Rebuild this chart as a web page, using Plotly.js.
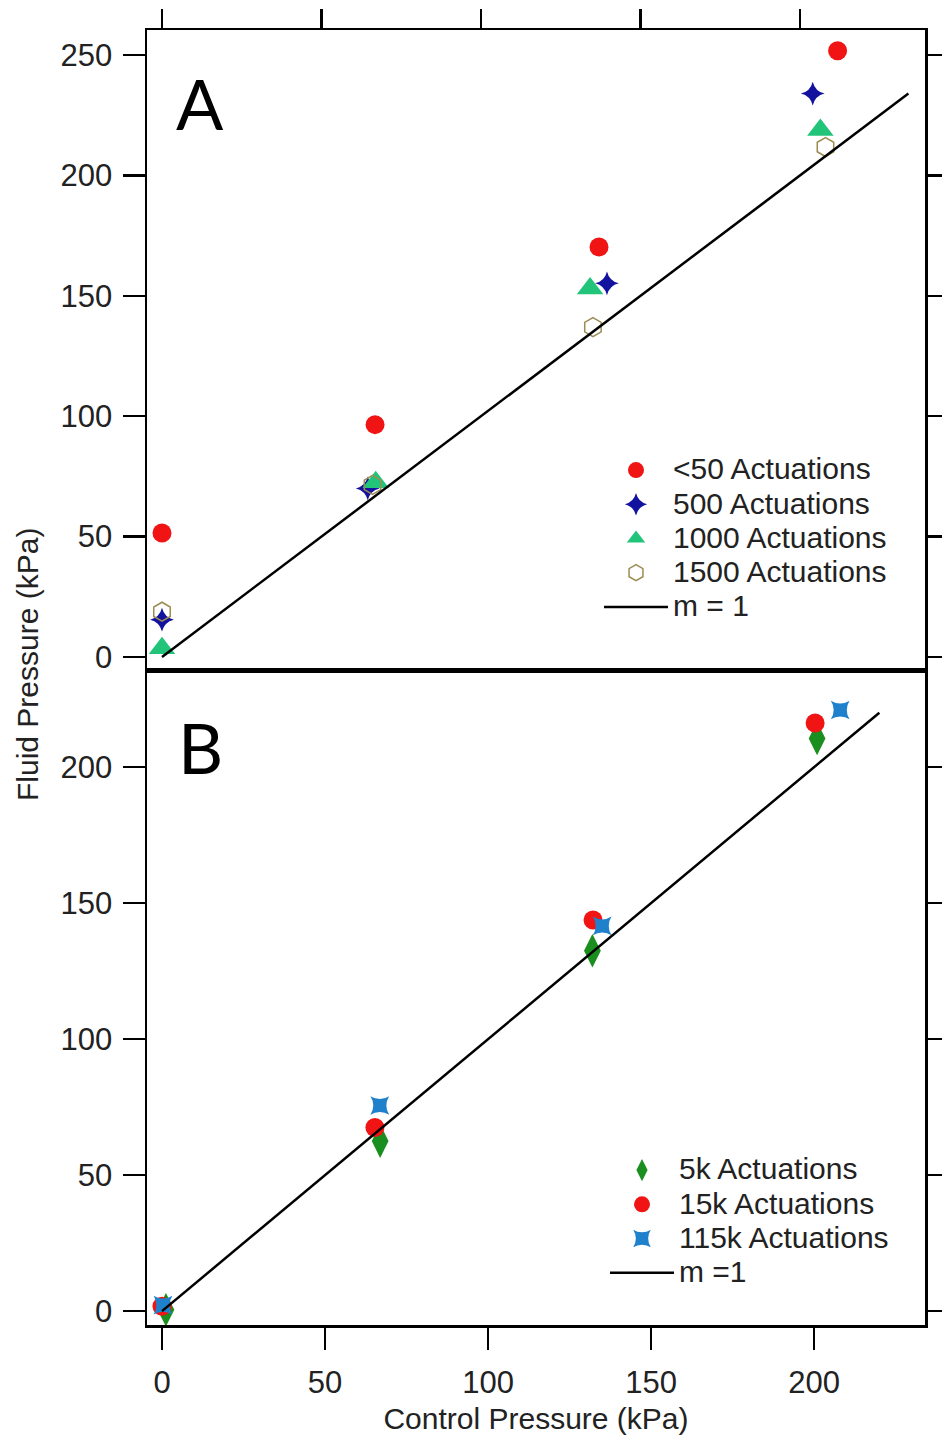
<!DOCTYPE html>
<html>
<head>
<meta charset="utf-8">
<script src="https://cdn.plot.ly/plotly-3.0.1.min.js"></script>
<style>html,body{margin:0;padding:0;background:#fff;}</style>
</head>
<body>
<div id="chart" style="width:942px;height:1437px;"></div>
<script>
// ---------- Panel A data (control pressure vs fluid pressure, kPa) ----------
const a_lt50_x   = [0, 66.8, 137.0, 211.8];
const a_lt50_y   = [51.5, 96.5, 170.3, 251.8];
const a_500_x    = [0, 64.5, 139.5, 204.0];
const a_500_y    = [15.5, 70.0, 155.2, 234.0];
const a_1000_x   = [0, 67.0, 134.2, 206.4];
const a_1000_y   = [3.6, 72.6, 153.0, 218.9];
const a_1500_x   = [0, 66.0, 135.1, 208.0];
const a_1500_y   = [18.8, 71.5, 137.0, 211.8];
const a_line_x   = [0, 234];
const a_line_y   = [0, 234];

// ---------- Panel B data ----------
const b_5k_x     = [1.2, 66.9, 132.0, 200.9];
const b_5k_y     = [0.5, 62.5, 132.5, 210.5];
const b_15k_x    = [0, 65.3, 132.2, 200.3];
const b_15k_y    = [1.8, 67.5, 143.8, 216.2];
const b_115k_x   = [0.3, 66.8, 135.0, 208.0];
const b_115k_y   = [2.2, 75.6, 141.6, 221.0];
const b_line_x   = [0, 220];
const b_line_y   = [0, 220];

// ---------- labels ----------
const namesA = ['&lt;50 Actuations', '500 Actuations', '1000 Actuations', '1500 Actuations', 'm = 1'];
const namesB = ['5k Actuations', '15k Actuations', '115k Actuations', 'm =1'];
const tickValsX = [0, 50, 100, 150, 200];
const tickValsYA = [0, 50, 100, 150, 200, 250];
const tickValsYB = [0, 50, 100, 150, 200];
const xTitle = 'Control Pressure (kPa)';
const yTitle = 'Fluid Pressure (kPa)';

const FONT = 'Liberation Sans, Arial, sans-serif';
const big = s => '<span style="font-size:30px">' + s + '</span>';

const traces = [
  {x: a_lt50_x, y: a_lt50_y, xaxis: 'x2', yaxis: 'y2', mode: 'markers', name: big(namesA[0]), legend: 'legend',
   marker: {symbol: 'circle', size: 19, color: '#f01414'}},
  {x: a_500_x, y: a_500_y, xaxis: 'x2', yaxis: 'y2', mode: 'markers', name: big(namesA[1]), legend: 'legend',
   marker: {symbol: 'star-diamond', size: 17, color: '#12129e'}},
  {x: a_1000_x, y: a_1000_y, xaxis: 'x2', yaxis: 'y2', mode: 'markers', name: big(namesA[2]), legend: 'legend',
   marker: {symbol: 'triangle-up', size: 23, color: '#22c47a'}},
  {x: a_1500_x, y: a_1500_y, xaxis: 'x2', yaxis: 'y2', mode: 'markers', name: big(namesA[3]), legend: 'legend',
   marker: {symbol: 'hexagon-open', size: 19, color: '#9c8c52', line: {width: 1.5}}},
  {x: a_line_x, y: a_line_y, xaxis: 'x2', yaxis: 'y2', mode: 'lines', name: big(namesA[4]), legend: 'legend',
   line: {color: '#000', width: 2.5}},

  {x: b_5k_x, y: b_5k_y, xaxis: 'x', yaxis: 'y', mode: 'markers', name: big(namesB[0]), legend: 'legend2',
   marker: {symbol: 'diamond-tall', size: 24, color: '#1a8f1f'}},
  {x: b_15k_x, y: b_15k_y, xaxis: 'x', yaxis: 'y', mode: 'markers', name: big(namesB[1]), legend: 'legend2',
   marker: {symbol: 'circle', size: 19, color: '#f01414'}},
  {x: b_115k_x, y: b_115k_y, xaxis: 'x', yaxis: 'y', mode: 'markers', name: big(namesB[2]), legend: 'legend2',
   marker: {symbol: 'star-square', size: 17, color: '#1f80cc'}},
  {x: b_line_x, y: b_line_y, xaxis: 'x', yaxis: 'y', mode: 'lines', name: big(namesB[3]), legend: 'legend2',
   line: {color: '#000', width: 2.5}}
];

const axisCommon = {
  showgrid: false, zeroline: false, showline: true, linecolor: '#000', linewidth: 2.5,
  ticks: 'outside', tickcolor: '#000', tickwidth: 2.5, ticklen: 22,
  tickfont: {family: FONT, size: 31, color: '#222'}
};

const splitA = (1325 - 670) / 1295;

const layout = {
  width: 942, height: 1437,
  margin: {l: 147, r: 17, t: 30, b: 112, pad: 0},
  paper_bgcolor: '#fff', plot_bgcolor: '#fff',
  font: {family: FONT, color: '#222'},
  xaxis: Object.assign({}, axisCommon, {
    domain: [0, 1], anchor: 'y', range: [-4.6, 234.0], tickvals: tickValsX,
    mirror: true, ticklabelstandoff: 6,
    title: {text: xTitle, font: {family: FONT, size: 30, color: '#222'}, standoff: 10}
  }),
  yaxis: Object.assign({}, axisCommon, {
    domain: [0, splitA], anchor: 'x', range: [-5.1, 235.7], tickvals: tickValsYB,
    mirror: 'ticks', ticklabelstandoff: 4
  }),
  xaxis2: Object.assign({}, axisCommon, {
    domain: [0, 1], anchor: 'y2', side: 'top', range: [-4.7, 239.2], tickvals: tickValsX,
    showticklabels: false, mirror: true, ticklen: 19
  }),
  yaxis2: Object.assign({}, axisCommon, {
    domain: [splitA, 1], anchor: 'x2', range: [-5.4, 260.4], tickvals: tickValsYA,
    mirror: 'ticks', ticklabelstandoff: 4
  }),
  legend: {
    x: (599 - 147) / 778, y: (1325 - 448) / 1295, xanchor: 'left', yanchor: 'top',
    bgcolor: 'rgba(0,0,0,0)', borderwidth: 0, itemwidth: 64,
    font: {family: FONT, size: 24, color: '#222'}
  },
  legend2: {
    x: (605 - 147) / 778, y: (1325 - 1148) / 1295, xanchor: 'left', yanchor: 'top',
    bgcolor: 'rgba(0,0,0,0)', borderwidth: 0, itemwidth: 64,
    font: {family: FONT, size: 24, color: '#222'}
  },
  annotations: [
    {text: 'A', xref: 'paper', yref: 'paper', x: (200 - 147) / 778, y: (1325 - 103) / 1295,
     xanchor: 'center', yanchor: 'middle', showarrow: false,
     font: {family: 'Lato, Open Sans, sans-serif', size: 70, color: '#000'}},
    {text: 'B', xref: 'paper', yref: 'paper', x: (200 - 147) / 778, y: (1325 - 747) / 1295,
     xanchor: 'center', yanchor: 'middle', showarrow: false,
     font: {family: 'Lato, Open Sans, sans-serif', size: 70, color: '#000'}},
    {text: yTitle, xref: 'paper', yref: 'paper', x: (27 - 147) / 778, y: (1325 - 665) / 1295,
     xanchor: 'center', yanchor: 'middle', textangle: -90, showarrow: false,
     font: {family: FONT, size: 30, color: '#222'}}
  ],
  showlegend: true
};

Plotly.newPlot('chart', traces, layout, {displayModeBar: false, staticPlot: true});
</script>
</body>
</html>
